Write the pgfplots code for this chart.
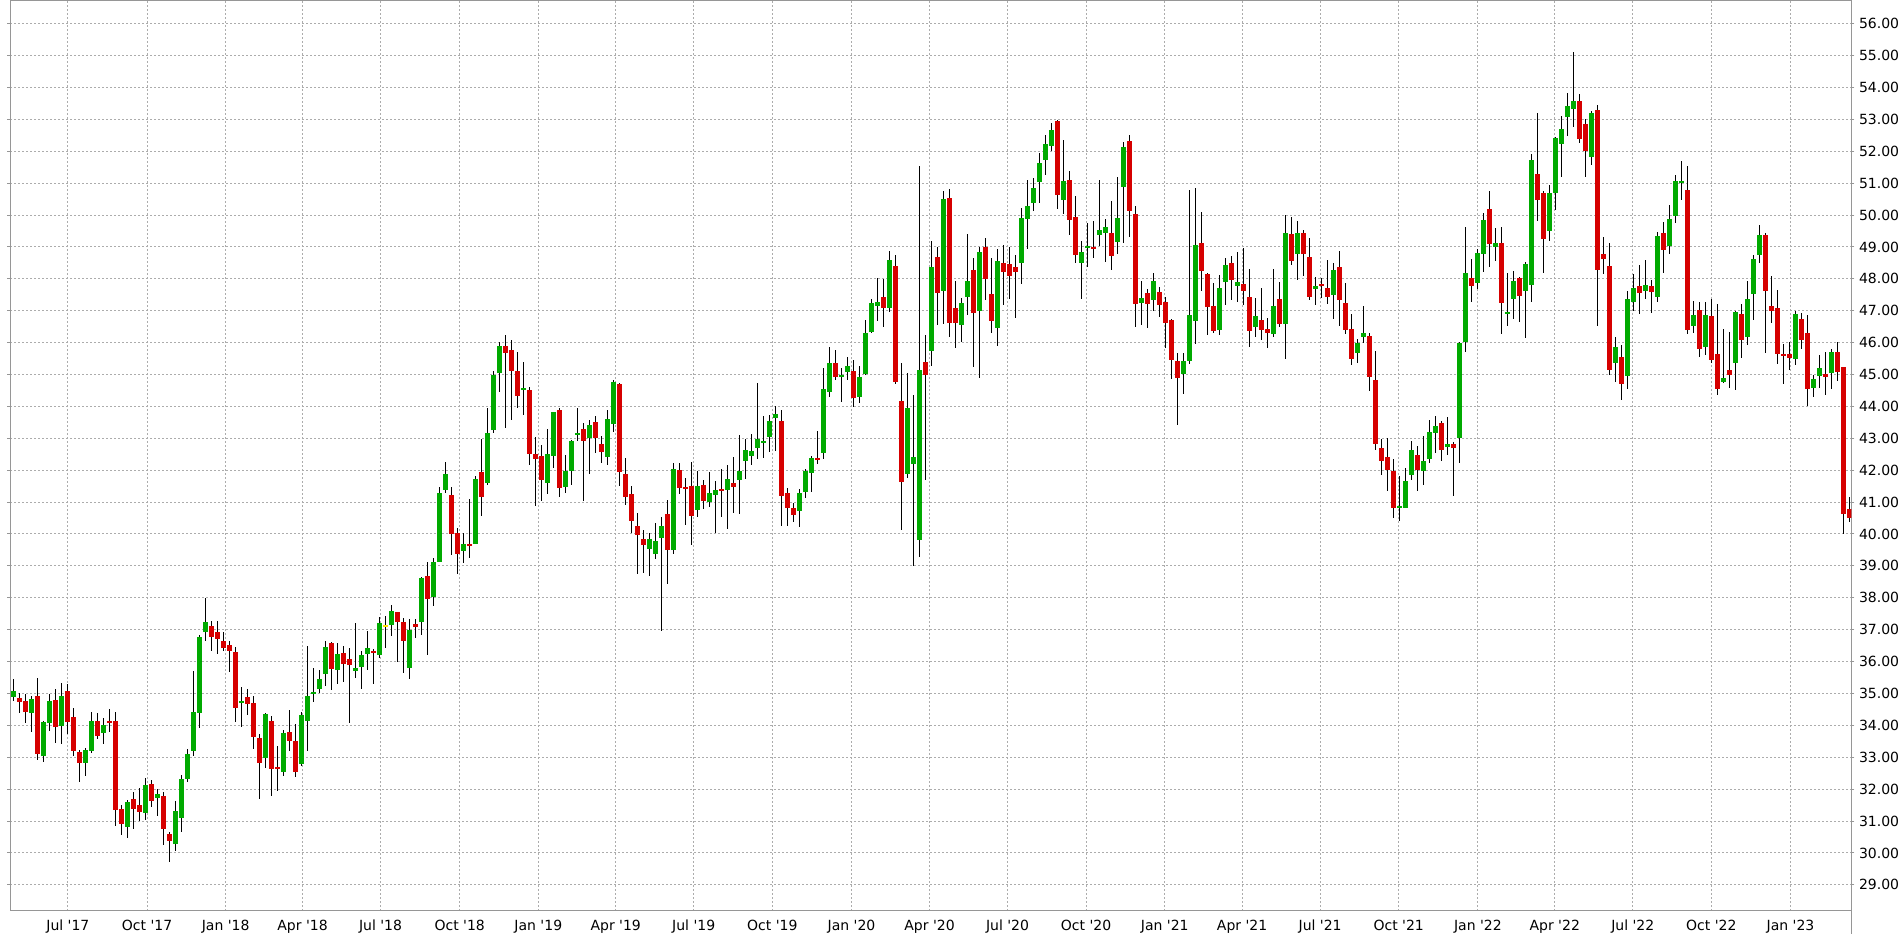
\documentclass[border=0pt]{standalone}
\usepackage{pgfplots}
\usepackage{pgfplotstable}
\pgfplotsset{compat=1.18}
\usepackage{fontspec}
\setmainfont{DejaVu Sans}
\definecolor{cgreen}{RGB}{0,170,0}
\definecolor{cred}{RGB}{214,0,0}
\definecolor{cyellow}{RGB}{255,225,0}
\definecolor{gridc}{RGB}{172,172,172}
\definecolor{axc}{RGB}{150,150,150}

\pgfplotstableread{
i o h l c
0 34.90 35.46 34.75 35.08
3 34.40 34.91 33.80 34.83
5 33.05 34.13 32.86 34.10
6 34.08 34.99 33.83 34.77
8 33.99 35.33 33.41 34.92
12 32.83 33.30 32.42 33.23
13 33.20 34.42 33.14 34.14
15 33.77 34.23 33.42 34.00
19 30.82 31.66 30.47 31.59
22 31.26 32.35 31.04 32.13
24 31.73 32.00 31.16 31.84
27 30.28 31.62 30.06 31.31
28 31.10 32.44 30.66 32.31
29 32.32 33.26 32.23 33.10
30 33.20 35.69 33.05 34.42
31 34.40 36.82 33.93 36.78
32 36.94 38.00 36.63 37.25
38 34.71 35.20 33.96 34.77
42 32.99 34.39 32.66 34.36
45 32.55 33.85 32.42 33.76
48 32.80 34.42 32.73 34.33
49 34.15 36.49 33.20 34.92
50 34.99 35.80 34.74 35.05
51 35.15 35.74 35.02 35.46
52 35.62 36.65 35.22 36.46
54 35.72 36.59 35.31 36.24
57 35.69 37.22 35.50 35.80
58 35.84 36.34 35.15 36.21
59 36.25 36.96 35.72 36.43
61 36.22 37.40 36.10 37.22
63 37.14 37.76 36.80 37.57
66 35.79 37.32 35.44 37.00
68 37.24 38.65 36.83 38.61
70 38.02 39.24 37.74 39.11
71 39.12 41.47 39.11 41.28
72 41.39 42.26 41.29 41.88
75 39.47 40.02 39.09 39.68
77 39.69 41.82 39.69 41.72
79 41.61 43.96 41.55 43.17
80 43.27 45.12 43.18 44.99
81 45.04 46.03 44.44 45.89
85 44.51 45.40 43.72 44.56
89 41.61 43.30 41.26 42.51
90 42.46 43.83 42.08 43.83
92 41.48 42.48 41.29 41.99
93 41.99 42.95 41.55 42.92
94 43.12 43.94 42.90 43.17
96 43.01 43.56 41.88 43.41
99 42.41 43.88 42.16 43.60
100 43.45 44.82 43.20 44.76
106 39.52 40.04 38.67 39.85
107 39.36 40.33 39.20 39.79
108 39.86 40.54 36.97 40.26
110 39.49 42.24 39.36 42.05
114 40.74 41.99 40.52 41.49
116 40.99 41.93 40.84 41.27
117 41.22 41.65 40.02 41.39
119 41.37 42.15 40.15 41.71
121 41.69 43.09 40.62 41.99
122 42.28 42.99 41.72 42.62
123 42.44 43.15 42.16 42.59
124 42.69 44.73 42.35 42.97
125 42.85 43.69 42.38 42.93
126 43.04 43.72 42.57 43.53
127 43.63 44.00 42.60 43.75
131 40.72 41.40 40.21 41.27
132 41.31 42.03 41.13 41.96
133 41.91 42.43 41.31 42.37
135 42.54 45.20 42.35 44.54
136 44.46 45.86 44.30 45.36
138 44.93 45.20 44.14 44.99
139 45.08 45.54 44.83 45.26
141 44.30 45.26 44.11 44.92
142 45.01 46.71 44.98 46.30
143 46.33 47.37 46.30 47.24
144 47.16 48.03 46.68 47.27
146 47.09 48.88 46.96 48.59
149 41.88 45.04 41.75 43.94
150 42.19 44.35 39.00 42.40
151 39.81 51.54 39.27 45.14
153 45.74 49.19 45.27 48.37
155 47.63 50.76 46.59 50.51
158 46.56 47.40 46.03 47.24
159 47.44 49.41 46.87 47.93
161 47.00 49.00 44.90 48.84
164 46.47 48.94 45.90 48.56
168 48.48 50.22 47.85 49.90
169 49.89 51.10 48.95 50.28
170 50.38 51.16 50.13 50.85
171 51.05 51.94 50.38 51.63
172 51.74 52.51 51.27 52.23
173 52.17 52.88 52.02 52.67
175 50.48 52.35 50.04 51.07
178 48.51 49.18 47.38 48.84
179 48.98 49.75 48.38 49.03
181 49.38 51.10 49.04 49.53
182 49.45 49.87 48.54 49.62
184 49.16 51.19 48.79 49.90
185 50.89 52.29 49.13 52.13
188 47.25 47.93 46.56 47.40
190 47.32 48.18 47.00 47.93
195 45.02 45.67 44.40 45.42
196 45.43 50.78 45.34 46.86
197 46.68 50.84 45.96 49.06
201 46.40 48.12 46.25 47.71
202 47.91 48.65 47.19 48.43
204 47.78 48.84 47.28 47.90
207 46.50 47.39 46.18 46.83
210 46.28 48.30 46.18 47.14
212 46.59 50.00 45.49 49.43
214 48.79 49.81 47.97 49.43
217 47.69 48.05 47.19 47.77
220 47.50 48.49 46.75 48.27
224 45.68 46.12 45.35 46.00
225 46.17 47.16 45.98 46.31
231 40.83 41.83 40.42 40.89
232 40.83 42.07 40.83 41.66
233 41.86 42.90 41.68 42.64
235 41.96 43.08 41.55 42.29
236 42.34 43.58 42.21 43.20
237 43.18 43.71 42.55 43.39
239 42.73 43.68 42.49 42.81
241 43.00 46.03 42.24 46.00
242 46.01 49.61 45.70 48.17
244 47.86 48.95 47.67 48.80
245 48.78 50.05 48.21 49.83
247 48.99 49.58 48.56 49.11
249 46.89 48.18 46.51 46.97
250 47.36 48.23 46.73 47.92
252 47.61 48.54 46.14 48.45
253 47.80 51.91 47.27 51.72
256 49.50 50.93 49.18 50.68
257 50.69 52.44 50.15 52.41
258 52.23 53.10 51.20 52.69
259 53.08 53.82 52.48 53.41
260 53.33 55.10 52.76 53.57
263 51.82 53.26 51.57 53.19
267 45.37 46.17 44.77 45.86
269 44.96 47.61 44.55 47.36
270 47.27 48.15 46.99 47.71
272 47.62 48.58 47.37 47.80
274 47.43 49.46 47.28 49.34
276 49.03 50.31 48.78 49.87
277 49.97 51.25 49.75 51.06
278 51.01 51.69 50.47 51.06
280 46.53 47.30 46.31 46.86
282 45.87 47.27 45.62 46.86
285 44.77 46.42 44.74 44.88
287 45.37 46.99 44.52 46.95
289 46.19 47.93 45.94 47.37
290 47.52 48.75 46.71 48.62
291 48.75 49.69 48.50 49.37
297 45.49 46.99 45.30 46.90
300 44.58 44.98 44.29 44.86
301 44.95 45.61 44.58 45.20
303 45.05 45.80 44.55 45.71
}\up

\pgfplotstableread{
i o h l c
1 34.86 35.02 34.40 34.74
2 34.77 34.99 34.07 34.43
4 34.92 35.49 32.92 33.11
7 34.80 35.14 33.46 33.96
9 35.08 35.30 33.74 34.11
10 34.26 34.55 33.05 33.19
11 33.16 33.23 32.23 32.83
14 34.14 34.39 33.58 33.68
16 34.14 34.51 33.80 34.08
17 34.14 34.42 30.85 31.35
18 31.37 31.50 30.57 30.91
20 31.69 31.92 30.75 31.38
21 31.50 32.03 30.99 31.29
23 32.16 32.28 31.45 31.63
25 31.78 31.91 30.25 30.75
26 30.59 30.65 29.72 30.38
33 37.12 37.28 36.34 36.78
34 36.93 37.28 36.25 36.72
35 36.65 36.93 36.32 36.41
36 36.52 36.64 35.66 36.34
37 36.30 36.46 34.10 34.55
39 34.89 35.14 34.34 34.68
40 34.70 34.92 33.27 33.63
41 33.60 33.73 31.70 32.83
43 34.14 34.29 31.79 32.64
44 32.69 33.35 31.95 32.64
46 33.79 34.48 33.20 33.52
47 33.51 34.04 32.39 32.55
53 36.59 36.62 35.12 35.78
55 36.27 36.49 35.37 35.91
56 36.08 36.43 34.08 35.88
60 36.34 36.40 35.31 36.27
64 37.54 37.56 35.98 37.24
65 37.23 37.38 35.63 36.64
67 37.19 37.35 36.73 37.08
69 38.67 39.11 36.20 37.96
73 41.22 41.47 39.34 40.00
74 40.02 40.18 38.75 39.38
76 39.68 41.10 39.25 39.63
78 41.94 42.98 40.57 41.17
82 45.89 46.25 43.31 45.66
83 45.78 46.09 43.56 45.10
84 45.10 45.69 43.94 44.34
86 44.52 44.62 42.17 42.52
87 42.51 43.05 40.89 42.36
88 42.45 42.79 41.04 41.70
91 43.89 43.94 41.17 41.45
95 43.28 43.47 41.03 42.91
97 43.50 43.69 42.54 43.01
98 42.81 43.06 42.22 42.57
101 44.70 44.73 41.50 41.94
102 41.87 42.37 40.90 41.15
103 41.24 41.49 40.02 40.40
104 40.26 40.67 38.76 39.96
105 39.85 40.11 38.79 39.67
109 40.64 41.08 38.42 39.49
111 42.02 42.21 41.25 41.44
112 41.47 41.74 40.27 41.41
113 41.49 42.27 39.64 40.56
115 41.52 41.68 40.77 41.03
118 41.39 42.05 40.52 41.34
120 41.61 42.40 40.65 41.47
128 43.53 43.88 40.25 41.18
129 41.27 41.43 40.25 40.81
130 40.80 40.96 40.37 40.59
134 42.37 43.22 42.19 42.32
137 45.36 45.76 44.83 44.93
140 45.10 45.45 43.98 44.27
145 47.43 47.99 46.49 47.09
147 48.40 48.75 44.71 44.77
148 44.16 45.36 40.12 41.63
152 45.39 46.24 41.69 44.99
154 48.69 49.00 46.56 47.57
156 50.54 50.82 46.18 46.62
157 47.08 47.93 45.84 46.62
160 48.28 48.65 45.25 46.94
162 49.00 49.28 47.35 48.00
163 47.52 48.65 46.31 46.69
165 48.50 49.06 47.19 48.22
166 48.46 49.00 47.38 48.10
167 48.37 48.75 46.78 48.22
174 52.95 52.98 50.20 50.64
176 51.10 51.38 49.38 49.85
177 49.94 50.60 48.48 48.76
180 49.00 49.81 48.66 48.95
183 49.44 50.44 48.29 48.70
186 52.32 52.51 49.32 50.14
187 50.03 50.28 46.50 47.22
189 47.56 47.68 46.47 47.22
191 47.59 47.74 46.81 47.19
192 47.27 47.43 45.84 46.62
193 46.71 46.74 44.87 45.46
194 45.42 45.67 43.42 44.90
198 49.12 50.09 47.63 48.25
199 48.15 48.18 46.25 47.12
200 47.14 47.87 46.31 46.37
203 48.49 48.71 47.34 47.97
205 47.83 48.96 47.19 47.63
206 47.43 48.30 45.87 46.37
208 46.71 47.71 46.09 46.40
209 46.42 46.77 45.84 46.29
211 47.36 47.90 46.50 46.59
213 49.40 49.93 48.44 48.56
215 49.43 49.53 48.09 48.79
216 48.68 49.28 47.34 47.44
218 47.83 48.02 47.40 47.78
219 47.71 48.59 47.22 47.44
221 48.37 48.87 46.53 47.34
222 47.24 47.87 46.28 46.40
223 46.44 46.90 45.31 45.49
226 46.22 46.31 44.47 44.91
227 44.84 45.75 42.62 42.81
228 42.68 42.99 41.86 42.30
229 42.42 43.02 41.34 42.02
230 41.98 42.34 40.51 40.81
234 42.48 42.76 41.36 42.02
238 43.49 43.55 42.30 42.62
240 42.83 42.89 41.20 42.71
243 48.01 48.61 47.27 47.77
246 50.18 50.74 48.37 49.09
248 49.11 49.61 46.26 47.24
251 48.04 48.07 46.64 47.46
254 51.28 53.20 49.81 50.47
255 50.68 50.74 48.18 49.25
261 53.57 53.79 52.26 52.39
262 52.85 53.00 51.20 52.01
264 53.29 53.44 46.53 48.28
265 48.77 49.31 48.16 48.63
266 48.40 49.12 44.99 45.15
268 45.54 45.92 44.20 44.71
271 47.77 48.43 46.90 47.56
273 47.77 47.96 46.93 47.59
275 49.43 49.77 48.19 48.91
279 50.78 51.53 46.27 46.40
281 47.02 47.27 45.55 45.80
283 46.83 47.36 45.37 45.46
284 45.64 47.20 44.36 44.55
286 45.13 46.33 44.58 44.99
288 46.89 47.20 45.52 46.09
292 49.37 49.43 45.67 47.63
293 47.15 48.09 46.61 46.99
294 47.08 47.65 45.33 45.64
295 45.64 45.96 44.70 45.59
296 45.64 46.02 45.14 45.52
298 46.74 46.93 45.80 46.08
299 46.30 46.87 44.01 44.55
302 45.02 45.71 44.36 44.92
304 45.71 46.02 44.80 45.08
305 45.23 45.23 40.00 40.64
306 40.78 41.16 40.39 40.51
}\down

\pgfplotstableread{
i o h l c
62 37.12 37.44 36.41 37.12
}\doji

\pgfplotsset{
  wick/.style={black, only marks, mark size=0pt, mark options={draw=none, fill=none}, forget plot,
    error bars/.cd, y dir=both, y explicit, error mark=none,
    error bar style={line width=0.75pt, black, solid}},
  body/.style={#1, only marks, mark size=0pt, mark options={draw=none, fill=none}, forget plot,
    error bars/.cd, y dir=both, y explicit, error mark=none,
    error bar style={line width=3.75pt, #1, solid}},
}

\begin{document}
\begin{tikzpicture}
\useasboundingbox (-7.725pt,-17.25pt) rectangle (1417.275pt,683.25pt);
\begin{axis}[
  at={(0pt,0pt)}, anchor=south west,
  scale only axis, width=1380.75pt, height=682.5pt,
  xmin=-0.5, xmax=306.33, ymin=28.18, ymax=56.71,
  axis line style={axc, line width=0.75pt},
  xtick={9.1,22.3,35.4,48.2,61.2,74.4,87.5,100.4,113.4,126.5,139.7,152.7,165.7,178.8,191.9,204.8,217.8,230.9,244.1,256.9,269.9,283.0,296.2},
  xticklabels={Jul \textquotesingle17,Oct \textquotesingle17,Jan \textquotesingle18,Apr \textquotesingle18,Jul \textquotesingle18,Oct \textquotesingle18,Jan \textquotesingle19,Apr \textquotesingle19,Jul \textquotesingle19,Oct \textquotesingle19,Jan \textquotesingle20,Apr \textquotesingle20,Jul \textquotesingle20,Oct \textquotesingle20,Jan \textquotesingle21,Apr \textquotesingle21,Jul \textquotesingle21,Oct \textquotesingle21,Jan \textquotesingle22,Apr \textquotesingle22,Jul \textquotesingle22,Oct \textquotesingle22,Jan \textquotesingle23},
  ytick={29,30,...,56},
  yticklabel pos=right,
  /pgf/number format/assume math mode=true,
  yticklabel style={/pgf/number format/fixed, /pgf/number format/fixed zerofill, /pgf/number format/precision=2},
  tick label style={font=\fontsize{10.5pt}{12.5pt}\selectfont, black},
  xticklabel style={yshift=-1pt},
  xtick style={draw=none},
  ytick style={axc, line width=0.75pt},
  tick align=outside,
  major tick length=2.25pt,
  grid=major,
  major grid style={gridc, line width=0.75pt, dash pattern=on 1.5pt off 1.5pt},
  clip=true,
  after end axis/.code={\draw[axc, line width=0.75pt] (rel axis cs:1,0) -- ++(0pt,-17.25pt);},
]
\addplot[wick] table[x=i, y expr={(\thisrow{h}+\thisrow{l})/2}, y error expr={(\thisrow{h}-\thisrow{l})/2}] {\up};
\addplot[wick] table[x=i, y expr={(\thisrow{h}+\thisrow{l})/2}, y error expr={(\thisrow{h}-\thisrow{l})/2}] {\down};
\addplot[wick] table[x=i, y expr={(\thisrow{h}+\thisrow{l})/2}, y error expr={(\thisrow{h}-\thisrow{l})/2}] {\doji};
\addplot[body=cgreen] table[x=i, y expr={(\thisrow{o}+\thisrow{c})/2}, y error expr={max(abs(\thisrow{c}-\thisrow{o})/2,0.03)}] {\up};
\addplot[body=cred] table[x=i, y expr={(\thisrow{o}+\thisrow{c})/2}, y error expr={max(abs(\thisrow{c}-\thisrow{o})/2,0.03)}] {\down};
\addplot[body=cyellow] table[x=i, y expr={(\thisrow{o}+\thisrow{c})/2}, y error expr={max(abs(\thisrow{c}-\thisrow{o})/2,0.03)}] {\doji};
\end{axis}
\end{tikzpicture}
\end{document}
